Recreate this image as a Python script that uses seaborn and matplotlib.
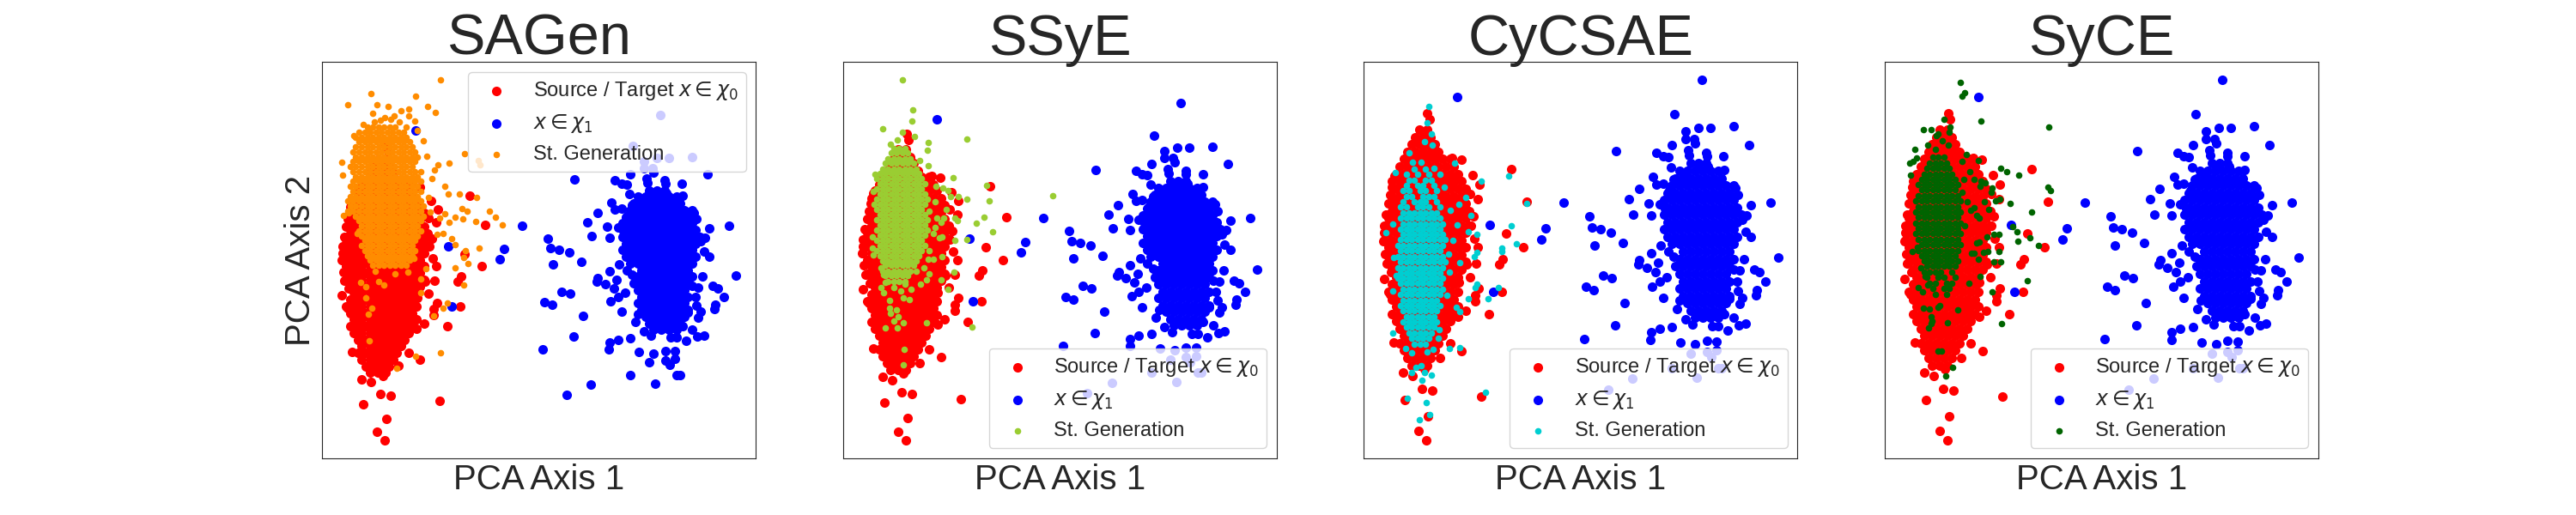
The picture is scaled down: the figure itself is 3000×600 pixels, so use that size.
import numpy as np
import matplotlib
matplotlib.use('Agg')
import matplotlib.pyplot as plt
import seaborn as sns

sns.set_style('white')
plt.rcParams['font.family'] = ['Liberation Sans', 'DejaVu Sans']

# PCA projections (arbitrary PCA units).
# Each cloud = scattered points (x, y) + a dense core given row by row.

# ---- x in chi_0 (source / target) ----
chi0_pts = [
    (14.5, 4.7), (12.7, 6.7), (14.9, 9.8), (9.5, 13.2), (13.5, 15.5), (15.9, 15.2), (27.3, 13.9),
    (9.1, 18.9), (11.3, 18.3), (14.0, 19.7), (6.9, 25.3), (17.7, 22.1), (22.7, 23.5), (20.0, 25.1),
    (21.9, 30.7), (29.0, 31.3), (19.3, 31.9), (25.9, 33.9), (26.7, 36.7), (32.1, 36.0), (6.0, 35.5),
    (7.3, 34.4), (22.0, 37.9), (25.9, 35.3), (5.2, 42.0), (6.2, 40.1), (4.5, 46.7), (4.7, 48.4),
    (5.9, 49.8), (26.5, 45.3), (26.0, 42.0), (23.8, 41.7), (31.5, 41.8), (32.3, 42.9), (37.1, 45.3),
    (33.1, 48.2), (24.8, 49.9), (34.2, 61.8), (37.9, 54.9), (26.5, 55.5), (24.7, 56.6), (6.7, 54.3),
    (6.0, 56.3), (20.0, 52.6), (22.7, 53.5), (14.7, 73.6), (15.2, 72.2), (14.3, 68.7), (14.1, 66.8),
    (16.2, 65.5), (20.5, 64.2), (20.7, 59.0), (10.0, 63.4), (7.0, 60.3), (9.0, 58.1), (17.9, 57.5),
    (4.9, 44.0), (25.6, 47.1), (25.4, 51.8), (5.1, 52.2), (24.6, 39.0), (23.6, 31.9), (4.6, 38.6),
    (26.8, 58.6), (25.2, 60.5), (22.6, 63.8), (6.4, 58.0),
]
chi0_core_y = [20.5, 22.0, 23.6, 25.1, 26.7, 28.2, 29.8, 31.3, 32.9, 34.4, 36.0, 37.5, 39.1, 40.6,
               42.2, 43.7, 45.3, 46.8, 48.4, 49.9, 51.5, 53.0, 54.6, 56.1, 57.7, 59.2, 60.8, 62.3,
               63.9, 65.4, 67.0, 68.5, 70.1]
chi0_core_x = [
    [11.0, 12.8, 14.6],
    [10.1, 11.9, 13.7, 15.5],
    [9.2, 11.0, 12.8, 14.6, 16.4],
    [8.3, 10.1, 11.9, 13.7, 15.5, 17.3],
    [9.2, 11.0, 12.8, 14.6, 16.4, 18.2],
    [8.3, 10.1, 11.9, 13.7, 15.5, 17.3, 19.1],
    [7.4, 9.2, 11.0, 12.8, 14.6, 16.4, 18.2, 20.0],
    [6.5, 8.3, 10.1, 11.9, 13.7, 15.5, 17.3, 19.1, 20.9],
    [7.4, 9.2, 11.0, 12.8, 14.6, 16.4, 18.2, 20.0, 21.8],
    [6.5, 8.3, 10.1, 11.9, 13.7, 15.5, 17.3, 19.1, 20.9],
    [5.6, 7.4, 9.2, 11.0, 12.8, 14.6, 16.4, 18.2, 20.0, 21.8],
    [6.5, 8.3, 10.1, 11.9, 13.7, 15.5, 17.3, 19.1, 20.9],
    [7.4, 9.2, 11.0, 12.8, 14.6, 16.4, 18.2, 20.0, 21.8],
    [6.5, 8.3, 10.1, 11.9, 13.7, 15.5, 17.3, 19.1, 20.9, 22.7],
    [5.6, 7.4, 9.2, 11.0, 12.8, 14.6, 16.4, 18.2, 20.0, 21.8, 23.6],
    [6.5, 8.3, 10.1, 11.9, 13.7, 15.5, 17.3, 19.1, 20.9, 22.7],
    [5.6, 7.4, 9.2, 11.0, 12.8, 14.6, 16.4, 18.2, 20.0, 21.8, 23.6],
    [4.7, 6.5, 8.3, 10.1, 11.9, 13.7, 15.5, 17.3, 19.1, 20.9, 22.7],
    [5.6, 7.4, 9.2, 11.0, 12.8, 14.6, 16.4, 18.2, 20.0, 21.8, 23.6],
    [4.7, 6.5, 8.3, 10.1, 11.9, 13.7, 15.5, 17.3, 19.1, 20.9, 22.7, 24.5],
    [5.6, 7.4, 9.2, 11.0, 12.8, 14.6, 16.4, 18.2, 20.0, 21.8, 23.6],
    [6.5, 8.3, 10.1, 11.9, 13.7, 15.5, 17.3, 19.1, 20.9, 22.7, 24.5],
    [5.6, 7.4, 9.2, 11.0, 12.8, 14.6, 16.4, 18.2, 20.0, 21.8, 23.6],
    [6.5, 8.3, 10.1, 11.9, 13.7, 15.5, 17.3, 19.1, 20.9, 22.7],
    [7.4, 9.2, 11.0, 12.8, 14.6, 16.4, 18.2, 20.0, 21.8, 23.6],
    [6.5, 8.3, 10.1, 11.9, 13.7, 15.5, 17.3, 19.1, 20.9, 22.7],
    [7.4, 9.2, 11.0, 12.8, 14.6, 16.4, 18.2, 20.0, 21.8],
    [8.3, 10.1, 11.9, 13.7, 15.5, 17.3, 19.1, 20.9],
    [9.2, 11.0, 12.8, 14.6, 16.4, 18.2, 20.0],
    [10.1, 11.9, 13.7, 15.5, 17.3],
    [11.0, 12.8, 14.6, 16.4],
    [11.9, 13.7, 15.5],
    [12.8, 14.6],
]

# ---- x in chi_1 ----
chi1_pts = [
    (78.6, 80.6), (72.3, 73.3), (77.8, 70.5), (80.6, 70.5), (86.0, 70.8), (74.8, 69.7), (74.8, 68.2),
    (76.8, 68.2), (77.1, 67.2), (71.7, 66.8), (89.6, 66.8), (58.7, 65.6), (68.1, 65.3), (69.6, 64.5),
    (70.8, 64.3), (75.5, 65.8), (75.7, 64.7), (79.7, 65.3), (79.8, 64.5), (83.7, 64.5), (71.5, 62.2),
    (67.3, 60.2), (68.1, 58.5), (69.6, 58.7), (72.1, 59.6), (74.5, 60.5), (77.8, 62.2), (80.1, 62.4),
    (83.8, 61.7), (64.0, 57.7), (61.7, 55.5), (62.7, 52.3), (52.5, 51.8), (66.3, 54.5), (68.8, 54.4),
    (70.1, 53.5), (66.8, 52.0), (86.5, 57.8), (87.1, 56.3), (90.1, 54.2), (94.7, 54.7), (89.1, 52.0),
    (71.1, 57.2), (72.8, 56.0), (85.5, 53.1), (88.1, 51.1), (88.8, 48.7), (90.1, 47.6),
    (53.1, 49.5), (55.1, 49.2), (57.5, 48.5), (53.6, 45.7), (60.3, 46.3),
    (69.1, 45.7), (66.8, 44.1), (64.1, 42.6), (63.8, 41.7), (65.8, 41.1), (67.8, 40.2), (68.5, 42.1),
    (70.8, 44.4), (72.1, 43.4), (55.7, 39.4), (57.7, 38.9), (53.5, 36.4), (60.7, 33.7), (58.5, 28.9),
    (67.1, 37.1), (68.8, 38.1), (70.5, 39.1), (69.6, 34.7),
    (88.5, 42.9), (90.9, 40.7), (92.1, 40.1), (93.5, 38.1), (96.3, 43.2),
    (86.1, 40.7), (87.5, 40.4), (86.8, 38.1), (91.5, 36.4), (91.3, 35.3),
    (87.1, 36.2), (88.1, 34.7), (87.5, 33.4), (85.1, 34.6),
    (72.8, 32.4), (74.8, 30.1), (76.5, 29.1), (73.5, 34.1),
    (81.1, 28.7), (82.5, 28.7), (83.8, 31.3), (86.1, 30.6), (84.7, 27.9), (87.3, 28.9), (88.8, 29.2),
    (66.8, 27.5), (66.7, 25.9), (68.8, 28.2), (71.7, 28.6),
    (73.7, 25.3), (76.1, 22.9), (77.1, 25.0), (79.8, 25.6), (82.1, 25.5), (79.8, 23.4), (80.8, 22.3),
    (82.1, 23.7), (71.7, 19.9), (62.5, 17.7), (56.8, 15.4), (77.5, 17.9), (82.5, 19.9), (83.3, 19.9),
    (46.5, 54.8), (42.3, 49.3), (41.3, 47.0), (51.7, 37.0), (51.2, 26.0), (30.1, 36.0), (29.3, 50.0),
    (21.7, 77.0),
]
chi1_core_y = [30.5, 32.0, 33.6, 35.1, 36.7, 38.2, 39.8, 41.3, 42.9, 44.4, 46.0, 47.5, 49.1, 50.6,
               52.2, 53.7, 55.3, 56.8, 58.4, 59.9, 61.5, 63.0]
chi1_core_x = [
    [77.0, 78.8, 80.6, 82.4],
    [76.1, 77.9, 79.7, 81.5, 83.3],
    [75.2, 77.0, 78.8, 80.6, 82.4, 84.2],
    [74.3, 76.1, 77.9, 79.7, 81.5, 83.3, 85.1],
    [73.4, 75.2, 77.0, 78.8, 80.6, 82.4, 84.2],
    [74.3, 76.1, 77.9, 79.7, 81.5, 83.3, 85.1],
    [73.4, 75.2, 77.0, 78.8, 80.6, 82.4, 84.2],
    [72.5, 74.3, 76.1, 77.9, 79.7, 81.5, 83.3, 85.1],
    [73.4, 75.2, 77.0, 78.8, 80.6, 82.4, 84.2, 86.0],
    [74.3, 76.1, 77.9, 79.7, 81.5, 83.3, 85.1],
    [71.6, 73.4, 75.2, 77.0, 78.8, 80.6, 82.4, 84.2, 86.0],
    [70.7, 72.5, 74.3, 76.1, 77.9, 79.7, 81.5, 83.3, 85.1, 86.9],
    [69.8, 71.6, 73.4, 75.2, 77.0, 78.8, 80.6, 82.4, 84.2, 86.0],
    [70.7, 72.5, 74.3, 76.1, 77.9, 79.7, 81.5, 83.3, 85.1, 86.9],
    [69.8, 71.6, 73.4, 75.2, 77.0, 78.8, 80.6, 82.4, 84.2, 86.0, 87.8],
    [70.7, 72.5, 74.3, 76.1, 77.9, 79.7, 81.5, 83.3, 85.1, 86.9],
    [69.8, 71.6, 73.4, 75.2, 77.0, 78.8, 80.6, 82.4, 84.2, 86.0],
    [70.7, 72.5, 74.3, 76.1, 77.9, 79.7, 81.5, 83.3, 85.1],
    [71.6, 73.4, 75.2, 77.0, 78.8, 80.6, 82.4, 84.2, 86.0],
    [72.5, 74.3, 76.1, 77.9, 79.7, 81.5, 83.3],
    [73.4, 75.2, 77.0, 78.8, 80.6, 82.4],
    [76.1, 77.9, 79.7],
]

# ---- St. Generation: SAGen ----
sagen_pts = [
    (27.4, 88.8), (11.3, 85.5), (21.7, 84.9), (6.0, 83.0), (24.5, 82.5), (26.3, 81.1), (12.7, 82.9),
    (15.3, 82.5), (18.3, 81.5), (20.0, 82.0), (11.7, 81.0), (14.5, 80.0), (16.7, 80.3), (20.0, 80.3),
    (21.5, 79.2), (22.0, 77.0), (7.3, 75.8), (8.5, 76.5), (10.7, 77.0), (4.5, 69.5), (4.7, 66.5),
    (33.0, 71.5), (29.4, 69.3), (26.9, 69.0), (26.0, 67.7), (25.4, 65.8), (28.5, 63.9), (29.2, 62.1),
    (31.9, 62.1), (35.8, 61.3), (38.9, 58.1), (40.3, 56.7), (41.9, 54.9), (32.5, 58.8), (33.7, 58.1),
    (32.6, 56.3), (35.7, 55.8), (30.9, 56.7), (29.4, 55.5), (28.5, 57.6), (27.3, 56.5), (26.7, 52.7),
    (28.1, 53.0), (30.0, 51.7), (30.8, 50.3), (36.5, 49.5), (33.3, 49.0), (32.8, 47.3), (33.9, 45.9),
    (30.9, 44.9), (32.9, 41.0), (24.1, 44.7), (22.8, 42.3), (22.8, 39.2), (28.1, 35.5), (29.0, 36.7),
    (25.9, 33.7), (27.5, 25.1), (21.7, 24.3), (17.2, 21.6), (10.9, 28.0), (10.7, 34.2), (11.5, 35.5),
    (10.0, 38.0), (10.1, 40.5), (9.0, 41.5), (13.0, 41.8), (14.2, 41.0), (8.1, 53.0), (4.9, 57.2),
    (6.2, 57.7), (36.3, 70.0), (36.7, 69.0), (23.5, 74.5), (24.2, 71.0), (24.6, 61.4), (25.1, 58.0),
    (12.3, 44.2), (16.8, 43.6), (19.9, 44.0), (21.3, 47.2), (12.0, 79.0), (17.8, 78.9), (19.5, 77.8),
    (13.5, 79.4), (9.4, 78.3), (15.8, 79.6),
]
sagen_core_y = [45.5, 46.7, 47.8, 49.0, 50.1, 51.3, 52.4, 53.6, 54.7, 55.9, 57.0, 58.2, 59.3, 60.5,
                61.6, 62.8, 63.9, 65.1, 66.2, 67.4, 68.5, 69.7, 70.8, 72.0, 73.1, 74.3, 75.4, 76.6,
                77.7]
sagen_core_x = [
    [11.7, 13.0, 14.3, 15.6, 16.9, 18.2, 19.5],
    [11.1, 12.4, 13.7, 15.0, 16.3, 17.6, 18.9, 20.2],
    [10.4, 11.7, 13.0, 14.3, 15.6, 16.9, 18.2, 19.5, 20.8],
    [9.8, 11.1, 12.4, 13.7, 15.0, 16.3, 17.6, 18.9, 20.2, 21.5],
    [9.1, 10.4, 11.7, 13.0, 14.3, 15.6, 16.9, 18.2, 19.5, 20.8],
    [9.8, 11.1, 12.4, 13.7, 15.0, 16.3, 17.6, 18.9, 20.2, 21.5],
    [9.1, 10.4, 11.7, 13.0, 14.3, 15.6, 16.9, 18.2, 19.5, 20.8, 22.1],
    [8.5, 9.8, 11.1, 12.4, 13.7, 15.0, 16.3, 17.6, 18.9, 20.2, 21.5, 22.8],
    [9.1, 10.4, 11.7, 13.0, 14.3, 15.6, 16.9, 18.2, 19.5, 20.8, 22.1],
    [8.5, 9.8, 11.1, 12.4, 13.7, 15.0, 16.3, 17.6, 18.9, 20.2, 21.5, 22.8],
    [7.8, 9.1, 10.4, 11.7, 13.0, 14.3, 15.6, 16.9, 18.2, 19.5, 20.8, 22.1, 23.4],
    [5.9, 7.2, 8.5, 9.8, 11.1, 12.4, 13.7, 15.0, 16.3, 17.6, 18.9, 20.2, 21.5, 22.8],
    [6.5, 7.8, 9.1, 10.4, 11.7, 13.0, 14.3, 15.6, 16.9, 18.2, 19.5, 20.8, 22.1, 23.4],
    [5.9, 7.2, 8.5, 9.8, 11.1, 12.4, 13.7, 15.0, 16.3, 17.6, 18.9, 20.2, 21.5, 22.8],
    [6.5, 7.8, 9.1, 10.4, 11.7, 13.0, 14.3, 15.6, 16.9, 18.2, 19.5, 20.8, 22.1],
    [7.2, 8.5, 9.8, 11.1, 12.4, 13.7, 15.0, 16.3, 17.6, 18.9, 20.2, 21.5, 22.8],
    [6.5, 7.8, 9.1, 10.4, 11.7, 13.0, 14.3, 15.6, 16.9, 18.2, 19.5, 20.8, 22.1],
    [7.2, 8.5, 9.8, 11.1, 12.4, 13.7, 15.0, 16.3, 17.6, 18.9, 20.2, 21.5, 22.8],
    [7.8, 9.1, 10.4, 11.7, 13.0, 14.3, 15.6, 16.9, 18.2, 19.5, 20.8, 22.1],
    [7.2, 8.5, 9.8, 11.1, 12.4, 13.7, 15.0, 16.3, 17.6, 18.9, 20.2, 21.5, 22.8],
    [6.5, 7.8, 9.1, 10.4, 11.7, 13.0, 14.3, 15.6, 16.9, 18.2, 19.5, 20.8],
    [7.2, 8.5, 9.8, 11.1, 12.4, 13.7, 15.0, 16.3, 17.6, 18.9, 20.2, 21.5],
    [7.8, 9.1, 10.4, 11.7, 13.0, 14.3, 15.6, 16.9, 18.2, 19.5, 20.8, 22.1],
    [7.2, 8.5, 9.8, 11.1, 12.4, 13.7, 15.0, 16.3, 17.6, 18.9, 20.2, 21.5],
    [7.8, 9.1, 10.4, 11.7, 13.0, 14.3, 15.6, 16.9, 18.2, 19.5, 20.8],
    [8.5, 9.8, 11.1, 12.4, 13.7, 15.0, 16.3, 17.6, 18.9, 20.2],
    [7.8, 9.1, 10.4, 11.7, 13.0, 14.3, 15.6, 16.9, 18.2, 19.5],
    [9.8, 11.1, 12.4, 13.7, 15.0, 16.3, 17.6, 18.9],
    [10.4, 11.7, 13.0, 14.3, 15.6, 16.9],
]

# ---- St. Generation: SSyE ----
ssye_pts = [
    (13.7, 85.8), (16.2, 79.0), (16.0, 76.6), (9.1, 74.7), (28.7, 72.5), (11.0, 71.4), (12.5, 72.3),
    (13.7, 74.1), (16.5, 73.1), (19.7, 71.8), (19.5, 69.9), (17.7, 67.7), (19.7, 66.5), (7.3, 64.5),
    (25.5, 63.8), (7.0, 60.7), (21.5, 61.8), (23.2, 61.5), (24.3, 60.9), (24.9, 59.6), (33.3, 62.0),
    (48.7, 59.7), (26.7, 59.6), (28.7, 58.9), (34.0, 58.6), (21.3, 58.3), (20.0, 56.3), (23.9, 56.7),
    (26.0, 54.7), (26.5, 54.2), (32.7, 55.0), (31.0, 53.5), (34.7, 51.7), (23.3, 54.7), (22.7, 53.7),
    (21.7, 54.7), (21.3, 52.5), (20.9, 51.2), (22.3, 50.2), (23.0, 50.4), (25.9, 49.6), (28.8, 49.9),
    (6.7, 50.5), (7.0, 46.4), (6.7, 48.0), (20.0, 47.3), (19.8, 45.4), (21.0, 45.5), (23.0, 46.1),
    (18.7, 43.5), (20.0, 42.2), (19.3, 40.9), (18.0, 39.9), (25.7, 42.5), (22.7, 40.9), (24.3, 38.6),
    (8.7, 43.5), (9.3, 41.9), (9.7, 40.3), (8.7, 39.0), (9.3, 38.0), (11.7, 39.0), (13.3, 38.3),
    (14.3, 39.9), (15.7, 38.6), (15.3, 36.4), (13.9, 36.7), (10.7, 36.1), (10.7, 34.4), (11.0, 33.2),
    (12.3, 34.1), (12.7, 32.5), (11.7, 31.5), (9.7, 29.9), (12.5, 29.9), (13.9, 31.2), (19.3, 31.1),
    (29.9, 30.1), (14.1, 25.1), (14.0, 21.7),
]
ssye_core_y = [40.5, 41.7, 42.8, 44.0, 45.1, 46.3, 47.4, 48.6, 49.7, 50.9, 52.0, 53.2, 54.3, 55.5,
               56.6, 57.8, 58.9, 60.1, 61.2, 62.4, 63.5, 64.7, 65.8, 67.0, 68.1, 69.3, 70.4]
ssye_core_x = [
    [10.4, 11.7, 13.0, 14.3],
    [9.8, 11.1, 12.4, 13.7, 15.0],
    [9.1, 10.4, 11.7, 13.0, 14.3, 15.6, 16.9],
    [9.8, 11.1, 12.4, 13.7, 15.0, 16.3],
    [9.1, 10.4, 11.7, 13.0, 14.3, 15.6, 16.9],
    [8.5, 9.8, 11.1, 12.4, 13.7, 15.0, 16.3, 17.6],
    [7.8, 9.1, 10.4, 11.7, 13.0, 14.3, 15.6, 16.9, 18.2],
    [8.5, 9.8, 11.1, 12.4, 13.7, 15.0, 16.3, 17.6, 18.9],
    [7.8, 9.1, 10.4, 11.7, 13.0, 14.3, 15.6, 16.9, 18.2],
    [8.5, 9.8, 11.1, 12.4, 13.7, 15.0, 16.3, 17.6, 18.9],
    [7.8, 9.1, 10.4, 11.7, 13.0, 14.3, 15.6, 16.9, 18.2, 19.5],
    [8.5, 9.8, 11.1, 12.4, 13.7, 15.0, 16.3, 17.6, 18.9],
    [7.8, 9.1, 10.4, 11.7, 13.0, 14.3, 15.6, 16.9, 18.2, 19.5],
    [8.5, 9.8, 11.1, 12.4, 13.7, 15.0, 16.3, 17.6, 18.9],
    [7.8, 9.1, 10.4, 11.7, 13.0, 14.3, 15.6, 16.9, 18.2],
    [7.2, 8.5, 9.8, 11.1, 12.4, 13.7, 15.0, 16.3, 17.6, 18.9],
    [7.8, 9.1, 10.4, 11.7, 13.0, 14.3, 15.6, 16.9, 18.2, 19.5],
    [8.5, 9.8, 11.1, 12.4, 13.7, 15.0, 16.3, 17.6, 18.9],
    [7.8, 9.1, 10.4, 11.7, 13.0, 14.3, 15.6, 16.9, 18.2],
    [8.5, 9.8, 11.1, 12.4, 13.7, 15.0, 16.3, 17.6, 18.9],
    [7.8, 9.1, 10.4, 11.7, 13.0, 14.3, 15.6, 16.9, 18.2],
    [8.5, 9.8, 11.1, 12.4, 13.7, 15.0, 16.3, 17.6],
    [9.1, 10.4, 11.7, 13.0, 14.3, 15.6, 16.9],
    [9.8, 11.1, 12.4, 13.7, 15.0, 16.3],
    [10.4, 11.7, 13.0, 14.3, 15.6],
    [11.1, 12.4, 13.7, 15.0],
    [11.7, 13.0, 14.3],
]

# ---- St. Generation: CyCSAE ----
cycsae_pts = [
    (15.1, 75.0), (14.7, 71.6), (15.7, 69.3), (14.0, 67.6), (15.9, 66.8), (10.5, 65.3), (21.0, 63.1),
    (11.3, 63.3), (13.3, 63.3), (16.3, 62.0), (7.2, 61.1), (17.7, 60.7), (18.7, 58.1),
    (27.3, 59.3), (33.7, 60.3), (37.9, 54.6), (34.3, 49.9), (35.5, 46.1), (32.0, 45.2), (32.1, 44.4),
    (24.8, 52.0), (26.3, 48.1), (24.3, 48.7), (22.0, 54.4), (23.7, 55.8), (20.0, 53.2), (21.7, 50.1),
    (20.7, 46.8), (5.0, 48.4), (6.7, 50.2), (6.9, 43.2), (26.3, 44.2), (25.7, 43.4), (22.2, 42.1),
    (26.3, 37.5), (25.8, 36.8), (31.3, 36.8), (28.8, 34.5), (24.3, 34.5), (21.5, 32.7), (22.3, 31.8),
    (6.7, 36.2), (6.7, 27.2), (19.9, 24.0), (22.3, 24.2), (17.2, 26.2), (17.5, 28.0), (9.7, 24.0),
    (11.0, 23.1), (14.7, 23.4), (16.0, 23.8), (12.0, 20.1), (13.3, 20.4), (14.1, 18.9), (15.7, 18.4),
    (11.1, 19.0), (13.5, 17.3), (10.0, 13.6), (14.5, 12.6), (15.3, 10.2), (12.9, 9.1), (28.2, 14.9),
    (19.6, 44.0), (19.9, 40.1), (7.4, 39.4), (19.2, 35.2),
]
cycsae_core_y = [25.0, 26.2, 27.3, 28.5, 29.6, 30.8, 31.9, 33.1, 34.2, 35.4, 36.5, 37.7, 38.8, 40.0,
                 41.1, 42.3, 43.4, 44.6, 45.7, 46.9, 48.0, 49.2, 50.3, 51.5, 52.6, 53.8, 54.9, 56.1,
                 57.2, 58.4, 59.5, 60.7, 61.8]
cycsae_core_x = [
    [11.7, 13.0, 14.3],
    [11.1, 12.4, 13.7, 15.0],
    [10.4, 11.7, 13.0, 14.3, 15.6],
    [9.8, 11.1, 12.4, 13.7, 15.0, 16.3],
    [9.1, 10.4, 11.7, 13.0, 14.3, 15.6, 16.9],
    [9.8, 11.1, 12.4, 13.7, 15.0, 16.3],
    [9.1, 10.4, 11.7, 13.0, 14.3, 15.6, 16.9],
    [8.5, 9.8, 11.1, 12.4, 13.7, 15.0, 16.3, 17.6],
    [9.1, 10.4, 11.7, 13.0, 14.3, 15.6, 16.9],
    [8.5, 9.8, 11.1, 12.4, 13.7, 15.0, 16.3, 17.6],
    [9.1, 10.4, 11.7, 13.0, 14.3, 15.6, 16.9, 18.2],
    [8.5, 9.8, 11.1, 12.4, 13.7, 15.0, 16.3, 17.6],
    [7.8, 9.1, 10.4, 11.7, 13.0, 14.3, 15.6, 16.9, 18.2],
    [8.5, 9.8, 11.1, 12.4, 13.7, 15.0, 16.3, 17.6],
    [7.8, 9.1, 10.4, 11.7, 13.0, 14.3, 15.6, 16.9, 18.2],
    [8.5, 9.8, 11.1, 12.4, 13.7, 15.0, 16.3, 17.6, 18.9],
    [7.8, 9.1, 10.4, 11.7, 13.0, 14.3, 15.6, 16.9, 18.2],
    [8.5, 9.8, 11.1, 12.4, 13.7, 15.0, 16.3, 17.6],
    [7.8, 9.1, 10.4, 11.7, 13.0, 14.3, 15.6, 16.9, 18.2],
    [8.5, 9.8, 11.1, 12.4, 13.7, 15.0, 16.3, 17.6, 18.9],
    [9.1, 10.4, 11.7, 13.0, 14.3, 15.6, 16.9, 18.2],
    [8.5, 9.8, 11.1, 12.4, 13.7, 15.0, 16.3, 17.6],
    [9.1, 10.4, 11.7, 13.0, 14.3, 15.6, 16.9, 18.2],
    [8.5, 9.8, 11.1, 12.4, 13.7, 15.0, 16.3, 17.6],
    [9.1, 10.4, 11.7, 13.0, 14.3, 15.6, 16.9],
    [8.5, 9.8, 12.4, 13.7, 15.0, 17.6],
    [9.1, 11.7, 13.0, 14.3, 16.9],
    [9.8, 11.1, 13.7, 15.0, 16.3],
    [9.1, 10.4, 13.0, 14.3, 16.9],
    [9.8, 12.4, 13.7, 16.3],
    [10.4, 11.7, 14.3, 15.6],
    [9.8, 12.4, 15.0],
    [11.7, 14.3],
]

# ---- St. Generation: SyCE ----
syce_pts = [
    (17.5, 80.1), (17.9, 77.2), (18.5, 77.9), (22.3, 71.9), (38.1, 70.6), (13.7, 72.3), (15.2, 70.7),
    (15.0, 69.6), (8.9, 70.1), (10.8, 70.1), (11.9, 68.9), (12.3, 69.3), (13.3, 67.8), (14.7, 66.8),
    (9.9, 66.8), (11.7, 66.0), (6.9, 66.0), (7.3, 64.2), (5.7, 63.1), (6.5, 63.4), (19.0, 64.8),
    (17.9, 63.4), (21.7, 63.6), (6.0, 60.5), (19.7, 61.3), (20.7, 59.6), (27.0, 61.9),
    (28.3, 61.3), (31.2, 60.5), (22.3, 59.3), (23.3, 59.0), (22.2, 58.2), (37.9, 58.1), (38.5, 57.3),
    (24.9, 57.8), (24.8, 57.0), (18.0, 56.9), (25.7, 55.2), (26.7, 55.4), (29.2, 54.6),
    (23.2, 55.0), (24.1, 53.4), (34.2, 52.7), (20.0, 53.2), (20.7, 53.7), (22.0, 51.5), (21.3, 52.0),
    (29.7, 49.7), (30.7, 48.7), (30.9, 46.7), (33.7, 47.3), (35.7, 45.7), (25.3, 48.1), (26.5, 48.1),
    (23.7, 47.6), (22.0, 46.5), (21.3, 46.2), (26.5, 44.4), (23.0, 44.2), (24.0, 44.4), (25.3, 42.3),
    (27.0, 42.3), (21.7, 42.9), (20.7, 44.1), (20.1, 44.1), (22.1, 39.2), (33.2, 38.4), (25.0, 35.9),
    (19.5, 37.7), (6.3, 44.4), (7.5, 45.4), (7.7, 36.8), (8.8, 35.9), (10.0, 37.4), (8.3, 41.1),
    (9.3, 39.2), (8.9, 32.5), (10.3, 32.4), (10.7, 30.7), (12.3, 32.7), (12.7, 33.0), (10.7, 29.2),
    (10.1, 28.4), (11.0, 29.8), (14.5, 29.4), (16.9, 32.1), (27.2, 29.2), (12.3, 23.5), (13.2, 23.5),
    (15.7, 20.1), (14.2, 18.2), (18.6, 49.8), (19.1, 55.0), (18.4, 59.6),
]
syce_core_y = [35.5, 36.7, 37.8, 39.0, 40.1, 41.3, 42.4, 43.6, 44.7, 45.9, 47.0, 48.2, 49.3, 50.5,
               51.6, 52.8, 53.9, 55.1, 56.2, 57.4, 58.5, 59.7, 60.8, 62.0, 63.1, 64.3]
syce_core_x = [
    [11.7, 14.3],
    [11.1, 13.7, 15.0],
    [10.4, 11.7, 14.3, 15.6],
    [9.8, 12.4, 13.7, 16.3],
    [9.1, 10.4, 11.7, 13.0, 15.6],
    [9.8, 11.1, 12.4, 13.7, 15.0, 16.3],
    [9.1, 10.4, 11.7, 13.0, 14.3, 15.6, 16.9],
    [8.5, 9.8, 11.1, 12.4, 13.7, 15.0, 16.3],
    [7.8, 9.1, 10.4, 11.7, 13.0, 14.3, 15.6, 16.9],
    [8.5, 9.8, 11.1, 12.4, 13.7, 15.0, 16.3, 17.6],
    [7.8, 9.1, 10.4, 11.7, 13.0, 14.3, 15.6, 16.9],
    [7.2, 8.5, 9.8, 11.1, 12.4, 13.7, 15.0, 16.3, 17.6],
    [7.8, 9.1, 10.4, 11.7, 13.0, 14.3, 15.6, 16.9],
    [7.2, 8.5, 9.8, 11.1, 12.4, 13.7, 15.0, 16.3, 17.6],
    [7.8, 9.1, 10.4, 11.7, 13.0, 14.3, 15.6, 16.9],
    [7.2, 8.5, 9.8, 11.1, 12.4, 13.7, 15.0, 16.3, 17.6],
    [7.8, 9.1, 10.4, 11.7, 13.0, 14.3, 15.6, 16.9],
    [7.2, 8.5, 9.8, 11.1, 12.4, 13.7, 15.0, 16.3, 17.6],
    [7.8, 9.1, 10.4, 11.7, 13.0, 14.3, 15.6, 16.9],
    [8.5, 9.8, 11.1, 12.4, 13.7, 15.0, 16.3],
    [7.8, 9.1, 10.4, 11.7, 13.0, 14.3, 15.6, 16.9],
    [8.5, 9.8, 11.1, 12.4, 13.7, 15.0, 16.3],
    [9.1, 10.4, 11.7, 13.0, 14.3, 15.6],
    [9.8, 11.1, 12.4, 13.7, 15.0],
    [10.4, 11.7, 13.0, 14.3],
    [11.1, 12.4, 13.7],
]

titles = ['SAGen', 'SSyE', 'CyCSAE', 'SyCE']
gen_colors = ['darkorange', 'yellowgreen', 'darkturquoise', 'darkgreen']
legend_locs = ['upper right', 'lower right', 'lower right', 'lower right']
labels = ['Source / Target $x \\in \\chi_0$', '$x \\in \\chi_1$', 'St. Generation']


def cloud(pts, core_y, core_x):
    xs = [p[0] for p in pts]
    ys = [p[1] for p in pts]
    for y, row in zip(core_y, core_x):
        xs += row
        ys += [y] * len(row)
    return np.array(xs), np.array(ys)


x0, y0 = cloud(chi0_pts, chi0_core_y, chi0_core_x)
x1, y1 = cloud(chi1_pts, chi1_core_y, chi1_core_x)
gens = [cloud(sagen_pts, sagen_core_y, sagen_core_x),
        cloud(ssye_pts, ssye_core_y, ssye_core_x),
        cloud(cycsae_pts, cycsae_core_y, cycsae_core_x),
        cloud(syce_pts, syce_core_y, syce_core_x)]

fig, axes = plt.subplots(1, 4, figsize=(30, 6))

for i, ax in enumerate(axes):
    gx, gy = gens[i]
    sns.scatterplot(x=x0, y=y0, color='red', s=64, linewidth=0, label=labels[0], ax=ax)
    sns.scatterplot(x=x1, y=y1, color='blue', s=64, linewidth=0, label=labels[1], ax=ax)
    sns.scatterplot(x=gx, y=gy, color=gen_colors[i], s=30, linewidth=0, label=labels[2], ax=ax)
    ax.set_title(titles[i], fontsize=48)
    ax.set_xlabel('PCA Axis 1', fontsize=29)
    ax.set_ylabel('PCA Axis 2' if i == 0 else '', fontsize=29)
    ax.set_xticks([])
    ax.set_yticks([])
    ax.legend(loc=legend_locs[i], fontsize=17)

fig.savefig('out.png', dpi=100)
